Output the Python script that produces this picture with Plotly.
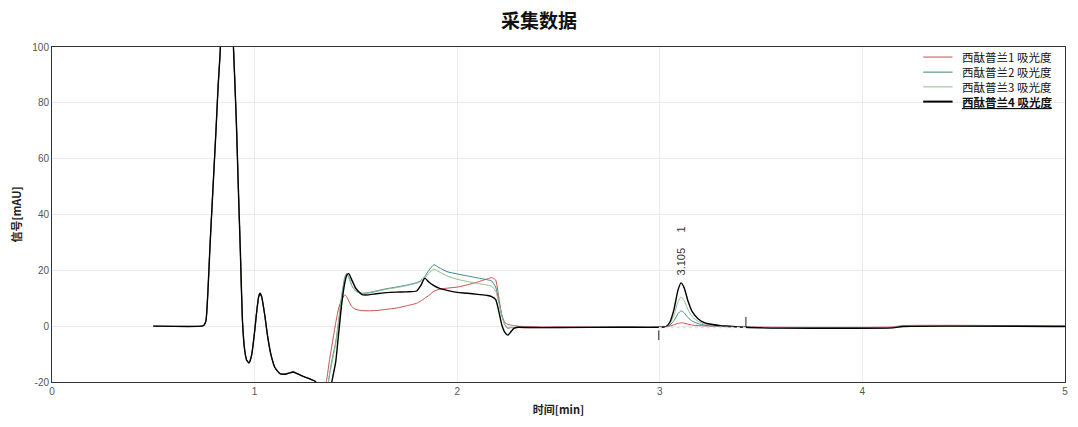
import plotly.graph_objects as go

# ---------------- data ----------------
t_front = [0.50, 0.74, 0.75, 0.76, 0.77, 0.78, 0.79, 0.80, 0.81, 0.82, 0.83, 0.845,
           0.86, 0.875, 0.89, 0.90, 0.91, 0.92, 0.93, 0.94, 0.95, 0.96, 0.972, 0.985,
           1.00, 1.01, 1.02, 1.027, 1.035, 1.05, 1.065, 1.08, 1.10, 1.125, 1.15, 1.17,
           1.19, 1.21, 1.24, 1.27, 1.30, 1.32, 1.34]
v_front = [0, 0, 0.3, 2, 13, 29, 43, 57, 71, 86, 98, 125,
           140, 135, 110, 92, 73, 49, 26, 2, -8, -12, -13.2, -10.5,
           -2, 5, 10.5, 11.8, 10.5, 4, -4, -10, -14.8, -17, -17.2, -16.8,
           -16.4, -17, -18, -18.8, -19.8, -22, -24]

t_back = [1.355, 1.37, 1.385, 1.40, 1.415, 1.43, 1.445, 1.455, 1.465, 1.48,
          1.50, 1.53, 1.56, 1.60, 1.65, 1.70, 1.75, 1.80, 1.82, 1.84,
          1.86, 1.885, 1.91, 1.95, 2.00, 2.05, 2.10, 2.15, 2.17, 2.19,
          2.205, 2.22, 2.235, 2.25, 2.265, 2.28, 2.30, 2.35, 2.50, 2.80,
          3.00, 3.03, 3.05, 3.07, 3.09, 3.105, 3.12, 3.14, 3.16, 3.19,
          3.22, 3.26, 3.30, 3.35, 3.42, 3.60, 4.15, 4.20, 5.00]

s1_back = [-19.5, -12, -5.5, 1, 6.5, 9.5, 11.2, 10.5, 9, 7,
           6, 5.6, 5.5, 5.6, 6, 6.5, 7.3, 8.2, 9, 10,
           11, 12.5, 13.2, 13.6, 14, 14.8, 15.8, 17, 17.4, 16.5,
           10.5, 4, 1.3, 0.6, 0.4, 0.2, 0, -0.2, -0.3, -0.3,
           -0.3, -0.2, 0.1, 0.5, 1, 1.2, 1.1, 0.7, 0.4, 0.2,
           0.1, 0, -0.1, -0.2, -0.3, -0.4, -0.3, 0.2, 0.1]

s2_back = [-24, -17, -11, -6, 2, 11, 17.5, 18.9, 17.5, 14.5,
           12.5, 11.8, 12, 12.6, 13.4, 14, 14.7, 15.6, 16.3, 17.8,
           20, 22, 21, 19.5, 18.7, 18, 17.3, 16.6, 16.2, 14,
           9, 4, 0.5, -0.8, -0.5, -0.6, -0.4, -0.5, -0.5, -0.4,
           -0.4, -0.3, 0.4, 2, 4.5, 5.5, 4.8, 3, 1.8, 0.9,
           0.4, 0.1, -0.1, -0.3, -0.4, -0.6, -0.5, 0, 0]

s3_back = [-23, -17.5, -12, -6.5, 1.5, 10.5, 17, 18.6, 17.5, 14.5,
           12.5, 11.6, 11.8, 12.4, 13.2, 13.8, 14.5, 15.4, 16, 17.2,
           19, 20.4, 19.5, 18, 16.8, 16, 15.3, 14.7, 14.3, 12.5,
           8.5, 3.8, 0.6, -0.5, -0.4, -0.5, -0.4, -0.5, -0.5, -0.4,
           -0.4, -0.2, 0.8, 4, 8.8, 10.5, 9.2, 5.8, 3.4, 1.7,
           0.8, 0.3, 0, -0.2, -0.4, -0.6, -0.5, 0, 0]

s4_back = [-27, -24, -18.5, -13, -2.5, 8, 15.5, 18.3, 18.8, 16.5,
           13.5, 11.3, 11.2, 11.6, 12, 12.2, 12.3, 12.6, 14.5, 17.2,
           15.8, 14.5, 13.6, 12.8, 12.1, 11.8, 11.4, 11, 10.6, 9.5,
           5.5, 0.5, -2.2, -3.2, -2, -0.8, -0.4, -0.5, -0.5, -0.4,
           -0.4, -0.2, 1.5, 6, 13, 15.5, 13.8, 8.8, 5.2, 2.6,
           1.3, 0.6, 0.2, 0, -0.4, -0.7, -0.6, -0.1, -0.1]

series_names = ["西酞普兰1 吸光度", "西酞普兰2 吸光度", "西酞普兰3 吸光度", "西酞普兰4 吸光度"]
series_values = [s1_back, s2_back, s3_back, s4_back]
series_colors = ["#c8504a", "#3f8585", "#8fbf8f", "#000000"]
series_widths = [1, 1, 1, 1.4]
legend_bold = [False, False, False, True]

peak_time = [3.105]
peak_label = ["3.105     1"]
integ_start = [2.995]
integ_end = [3.425]
integ_base = [-0.5]

x_ticks = [0, 1, 2, 3, 4, 5]
y_ticks = [-20, 0, 20, 40, 60, 80, 100]

# ---------------- figure ----------------
fig = go.Figure()
for name, vals, col, w in zip(series_names, series_values, series_colors, series_widths):
    fig.add_trace(go.Scatter(
        x=t_front + t_back, y=v_front + vals, mode="lines", name=name,
        line=dict(color=col, width=w, shape="spline", smoothing=0.5),
        showlegend=False,
    ))

# integration markers and baseline of the peak
fig.add_trace(go.Scatter(x=[integ_start[0], integ_end[0]], y=[integ_base[0], integ_base[0]],
                         mode="lines", line=dict(color="#f0d8d8", width=1.5, dash="dot"),
                         showlegend=False, hoverinfo="skip"))
fig.add_trace(go.Scatter(x=[integ_start[0], integ_start[0]], y=[-1.5, -5], mode="lines",
                         line=dict(color="#222", width=1), showlegend=False, hoverinfo="skip"))
fig.add_trace(go.Scatter(x=[integ_end[0], integ_end[0]], y=[-0.3, 3.3], mode="lines",
                         line=dict(color="#222", width=1), showlegend=False, hoverinfo="skip"))

fig.add_annotation(x=peak_time[0], y=26.8, xref="x", yref="y", text=peak_label[0],
                   textangle=-90, showarrow=False,
                   font=dict(family="Liberation Sans", size=11, color="#333"))

# compact legend (top-right, inside the plot)
leg_rows = [0.970, 0.925, 0.881, 0.837]
for name, col, w, bold, yy in zip(series_names, series_colors, series_widths, legend_bold, leg_rows):
    fig.add_shape(type="line", xref="paper", yref="paper", x0=0.860, x1=0.889, y0=yy, y1=yy,
                  line=dict(color=col, width=2 if bold else 1))
    txt = "<b><u>%s</u></b>" % name if bold else name
    fig.add_annotation(x=0.896, y=yy, xref="paper", yref="paper", text=txt, showarrow=False,
                       xanchor="left", yanchor="middle",
                       font=dict(family="Noto Sans CJK SC", size=11.5, color="#111"))

fig.update_layout(
    width=1078, height=427,
    margin=dict(l=52, r=13, t=47, b=45),
    paper_bgcolor="white", plot_bgcolor="white",
    title=dict(text="<b>采集数据</b>", x=0.5, xanchor="center", y=0.95, yanchor="middle",
               font=dict(family="Noto Sans CJK SC", size=19, color="#111")),
    font=dict(family="Noto Sans CJK SC", size=11, color="#333"),
    showlegend=False,
)
fig.update_xaxes(range=[0, 5], tickvals=x_ticks, ticktext=[str(v) for v in x_ticks],
                 showgrid=True, gridcolor="#ebebeb", gridwidth=1, zeroline=False,
                 showline=True, linecolor="#333", linewidth=1, mirror=True, automargin=False,
                 ticks="", tickfont=dict(family="Liberation Sans", size=10, color="#555"),
                 title=dict(text="<b>时间[min]</b>", standoff=10,
                            font=dict(family="Noto Sans CJK SC", size=11, color="#222")))
fig.update_yaxes(range=[-20, 100], tickvals=y_ticks, ticktext=[str(v) for v in y_ticks],
                 showgrid=True, gridcolor="#ebebeb", gridwidth=1, zeroline=False,
                 showline=True, linecolor="#333", linewidth=1, mirror=True, automargin=False,
                 ticks="", tickfont=dict(family="Liberation Sans", size=10, color="#555"),
                 title=dict(text="<b>信号[mAU]</b>", standoff=8,
                            font=dict(family="Noto Sans CJK SC", size=11, color="#222")))

fig.write_html("out.html", config={"displayModeBar": False},
               post_script="document.body.style.margin='0';")
